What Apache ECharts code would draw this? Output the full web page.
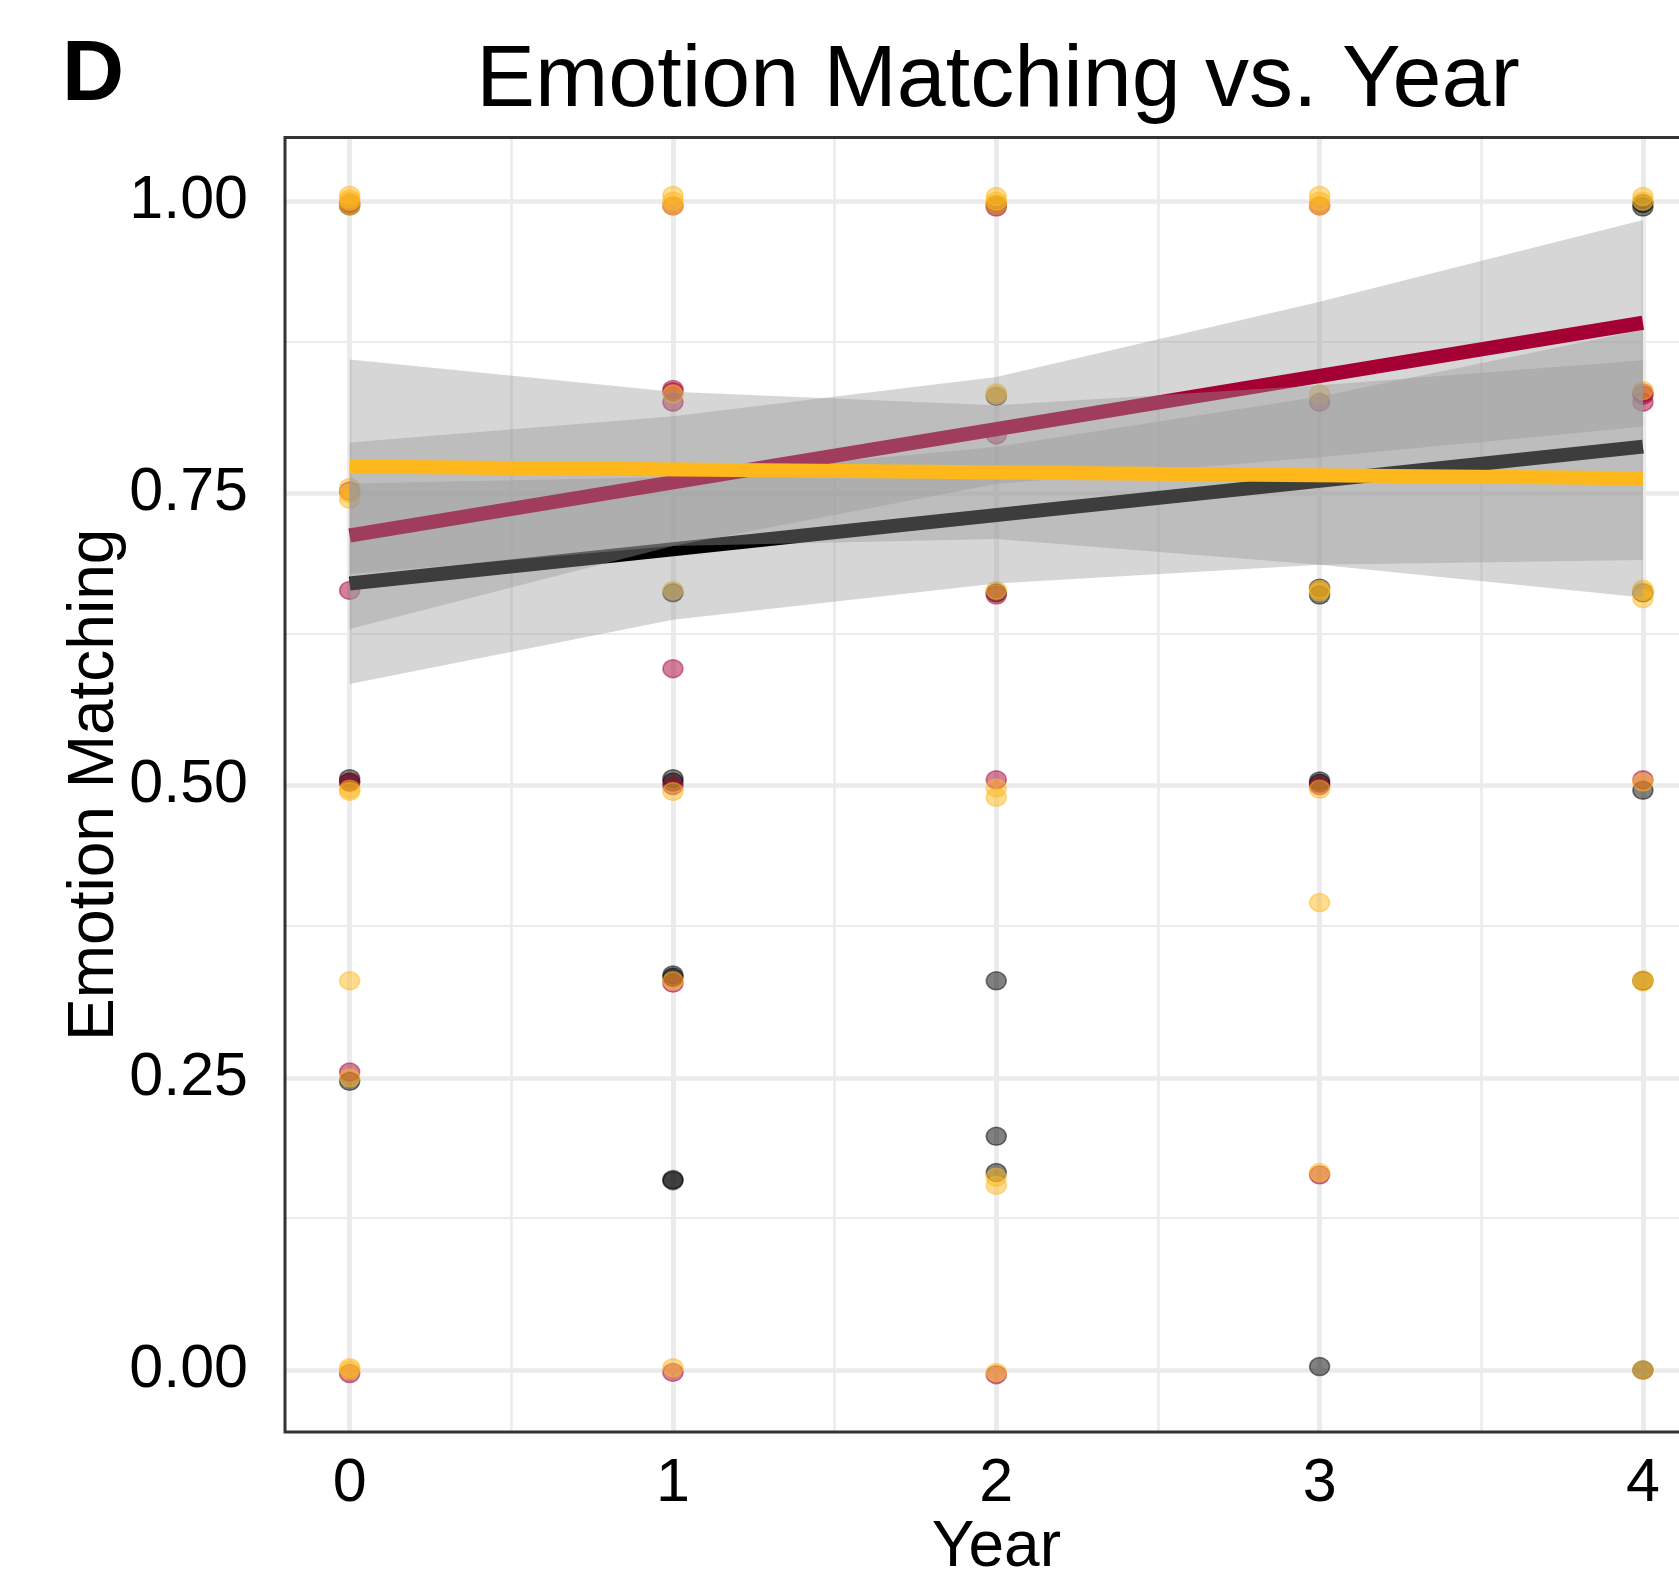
<!DOCTYPE html>
<html>
<head>
<meta charset="utf-8">
<script src="https://cdn.jsdelivr.net/npm/echarts@6/dist/echarts.min.js"></script>
<style>
html,body{margin:0;padding:0;overflow:hidden;background:#ffffff;}
#chart{width:1720px;height:1569px;}
</style>
</head>
<body>
<div id="chart"></div>
<script>
// ---- axis ticks ----
const years = [0, 1, 2, 3, 4];
const xMinor = [0.5, 1.5, 2.5, 3.5];
const yTicks = [0, 0.25, 0.5, 0.75, 1];
const yMinor = [0.125, 0.375, 0.625, 0.875];

// ---- raw points [year, emotion matching] ----
const blackPts = [
  [0, 0.996], [0, 0.506], [0, 0.503], [0, 0.247],
  [1, 0.506], [1, 0.503], [1, 0.665], [1, 0.338], [1, 0.336], [1, 0.163], [1, 0.162],
  [2, 0.997], [2, 0.833], [2, 0.665], [2, 0.333], [2, 0.200], [2, 0.169],
  [3, 0.669], [3, 0.663], [3, 0.504], [3, 0.502], [3, 0.003],
  [4, 0.995], [4, 0.998], [4, 0.665], [4, 0.496], [4, 0.333], [4, 0.000]
];
const crimsonPts = [
  [0, 0.998], [0, 0.752], [0, 0.667], [0, 0.503], [0, 0.255], [0, -0.003],
  [1, 0.996], [1, 0.839], [1, 0.837], [1, 0.828], [1, 0.600], [1, 0.500], [1, 0.331], [1, -0.002],
  [2, 0.995], [2, 0.800], [2, 0.663], [2, 0.505], [2, -0.004],
  [3, 0.996], [3, 0.828], [3, 0.500], [3, 0.167],
  [4, 0.836], [4, 0.834], [4, 0.828], [4, 0.505]
];
const goldPts = [
  [0, 1.005], [0, 1.000], [0, 0.996], [0, 1.002], [0, 0.755], [0, 0.750], [0, 0.745], [0, 0.497], [0, 0.495], [0, 0.333], [0, 0.250], [0, 0.002], [0, 0.000],
  [1, 1.005], [1, 1.000], [1, 0.996], [1, 0.835], [1, 0.667], [1, 0.495], [1, 0.333], [1, 0.002],
  [2, 1.004], [2, 1.000], [2, 0.997], [2, 0.836], [2, 0.834], [2, 0.667], [2, 0.498], [2, 0.490], [2, 0.165], [2, 0.158], [2, -0.002],
  [3, 1.005], [3, 1.000], [3, 0.996], [3, 0.835], [3, 0.668], [3, 0.666], [3, 0.497], [3, 0.400], [3, 0.169],
  [4, 1.004], [4, 1.000], [4, 0.838], [4, 0.668], [4, 0.666], [4, 0.660], [4, 0.503], [4, 0.334], [4, 0.332], [4, 0.000]
];

// ---- fitted lines (value at year 0 and year 4) ----
const fitYears = [0, 4];
const blackFit = [0.673, 0.790];
const crimsonFit = [0.714, 0.896];
const goldFit = [0.773, 0.763];

// ---- confidence ribbons at years 0..4 ----
const blackLo = [0.587, 0.642, 0.673, 0.689, 0.693];
const blackHi = [0.7585, 0.764, 0.790, 0.833, 0.890];
const crimsonLo = [0.634, 0.705, 0.758, 0.781, 0.807];
const crimsonHi = [0.7935, 0.816, 0.8497, 0.914, 0.984];
const goldLo = [0.681, 0.705, 0.711, 0.689, 0.661];
const goldHi = [0.8646, 0.837, 0.8255, 0.8426, 0.864];

const FONT = '"Liberation Sans", Arial, Helvetica, sans-serif';
const COL_BLACK = '#000000';
const COL_CRIMSON = '#A50034';
const COL_GOLD = '#FFB81C';

function rgba(hex, a) {
  const n = parseInt(hex.slice(1), 16);
  return 'rgba(' + ((n >> 16) & 255) + ',' + ((n >> 8) & 255) + ',' + (n & 255) + ',' + a + ')';
}

function pointSeries(name, pts, color, z) {
  return {
    name: name, type: 'scatter', data: pts, z: z, silent: true,
    symbol: 'circle', symbolSize: [20, 18],
    itemStyle: { color: rgba(color, 0.62), borderColor: rgba(color, 0.62), borderWidth: 1.5 },
    emphasis: { disabled: true }
  };
}

function ribbonSeries(name, lo, hi, z) {
  return {
    name: name, type: 'custom', z: z, silent: true,
    data: years.map(function (x, i) { return [x, lo[i], hi[i]]; }),
    encode: { x: 0, y: [1, 2] },
    renderItem: function (params, api) {
      if (params.dataIndex !== 0) return null;
      const top = years.map(function (x, i) { return api.coord([x, hi[i]]); });
      const bot = years.map(function (x, i) { return api.coord([x, lo[i]]); }).reverse();
      return {
        type: 'polygon',
        shape: { points: top.concat(bot) },
        style: { fill: 'rgba(153,153,153,0.4)', stroke: null }
      };
    }
  };
}

function fitSeries(name, vals, color, z) {
  return {
    name: name, type: 'line', z: z, silent: true,
    data: fitYears.map(function (x, i) { return [x, vals[i]]; }),
    symbol: 'none',
    lineStyle: { color: color, width: 14, cap: 'butt' },
    emphasis: { disabled: true }
  };
}

function gridSeries(vals, dim, width) {
  return {
    type: 'line', data: [], z: 1, silent: true,
    markLine: {
      z: 1, silent: true, symbol: ['none', 'none'], animation: false,
      label: { show: false },
      emphasis: { disabled: true },
      lineStyle: { color: '#EBEBEB', width: width, type: 'solid' },
      data: vals.map(function (v) { const o = {}; o[dim] = v; return o; })
    }
  };
}

const chart = echarts.init(document.getElementById('chart'), null, { renderer: 'canvas' });
chart.setOption({
  animation: false,
  backgroundColor: '#ffffff',
  textStyle: { fontFamily: FONT },
  grid: {
    left: 285, top: 137.5, width: 1422.6, height: 1294.5,
    show: true, z: 10, backgroundColor: 'transparent',
    borderColor: '#333333', borderWidth: 3,
    containLabel: false, outerBoundsMode: 'none'
  },
  xAxis: {
    type: 'value', min: -0.2, max: 4.2,
    name: 'Year', nameLocation: 'middle', nameGap: 84, nameMoveOverlap: false,
    nameTextStyle: { fontSize: 64, color: '#000', fontFamily: FONT },
    axisLine: { show: false },
    splitLine: { show: false },
    axisTick: { show: true, customValues: years, length: 15, lineStyle: { color: '#333333', width: 3 } },
    axisLabel: {
      customValues: years, fontSize: 61, color: '#000', fontFamily: FONT, margin: 22,
      formatter: function (v) { return String(v); }
    }
  },
  yAxis: {
    type: 'value', min: -0.053, max: 1.0545,
    name: 'Emotion Matching', nameLocation: 'middle', nameRotate: 90, nameGap: 158, nameMoveOverlap: false,
    nameTextStyle: { fontSize: 64, color: '#000', fontFamily: FONT },
    axisLine: { show: false },
    splitLine: { show: false },
    axisTick: { show: true, customValues: yTicks, length: 17, lineStyle: { color: '#333333', width: 3 } },
    axisLabel: {
      customValues: yTicks, fontSize: 61, color: '#000', fontFamily: FONT, margin: 37,
      formatter: function (v) { return v.toFixed(2); }
    }
  },
  graphic: [
    {
      type: 'text', x: 93, y: 76, silent: true,
      style: { text: 'D', fill: '#000', font: 'bold 86px ' + FONT, textAlign: 'center', textVerticalAlign: 'middle' }
    },
    {
      type: 'text', x: 998, y: 82, silent: true,
      style: { text: 'Emotion Matching vs. Year', fill: '#000', font: '88px ' + FONT, textAlign: 'center', textVerticalAlign: 'middle' }
    }
  ],
  series: [
    gridSeries(xMinor, 'xAxis', 2.6),
    gridSeries(yMinor, 'yAxis', 2.2),
    gridSeries(years, 'xAxis', 5),
    gridSeries(yTicks, 'yAxis', 4.5),
    pointSeries('Black points', blackPts, COL_BLACK, 2),
    pointSeries('Crimson points', crimsonPts, COL_CRIMSON, 2.1),
    pointSeries('Gold points', goldPts, COL_GOLD, 2.2),
    ribbonSeries('Black CI', blackLo, blackHi, 3),
    fitSeries('Black fit', blackFit, COL_BLACK, 4),
    ribbonSeries('Crimson CI', crimsonLo, crimsonHi, 5),
    fitSeries('Crimson fit', crimsonFit, COL_CRIMSON, 6),
    ribbonSeries('Gold CI', goldLo, goldHi, 7),
    fitSeries('Gold fit', goldFit, COL_GOLD, 8)
  ]
});
</script>
</body>
</html>
